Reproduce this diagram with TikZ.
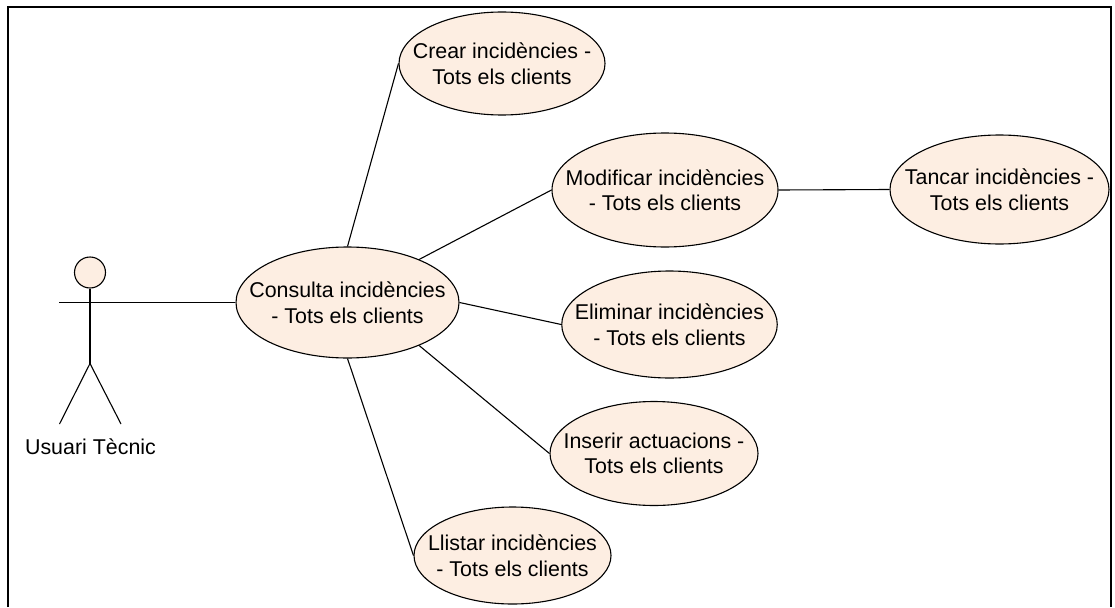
\documentclass[tikz,border=0pt]{standalone}
\usepackage{fontspec}
\setmainfont{Liberation Sans}
\usetikzlibrary{shapes.geometric}
\definecolor{usefill}{RGB}{253,238,226}
\newcommand{\twolines}[2]{\makebox[0pt][c]{#1}\\\makebox[0pt][c]{#2}}
\tikzset{
  x=1pt,y=-1pt,
  usecase/.style={draw=black,fill=usefill,ellipse,line width=1.1pt,inner sep=0pt,align=center,font=\fontsize{21.4}{25.5}\selectfont,text=black},
  link/.style={draw=black,line width=1.1pt},
  frameline/.style={draw=black,line width=2pt}
}
\begin{document}
\begin{tikzpicture}
\useasboundingbox (0,0) rectangle (1115,607);
\fill[white] (0,0) rectangle (1115,607);
\draw[frameline] (7.5,607) -- (7.5,7) -- (1111,7) -- (1111,607);
\node[usecase,minimum width=223pt,minimum height=111pt] (cons) at (347.5,302.5) {\twolines{Consulta incidències}{- Tots els clients}};
\node[usecase,minimum width=206pt,minimum height=103pt] (crear) at (502,63.5) {\twolines{Crear incidències -}{Tots els clients}};
\node[usecase,minimum width=226pt,minimum height=114pt] (mod) at (665,190) {\twolines{Modificar incidències}{- Tots els clients}};
\node[usecase,minimum width=219pt,minimum height=109pt] (tanc) at (999.5,189.5) {\twolines{Tancar incidències -}{Tots els clients}};
\node[usecase,minimum width=215.5pt,minimum height=107pt] (elim) at (669.5,324.5) {\twolines{Eliminar incidències}{- Tots els clients}};
\node[usecase,minimum width=208pt,minimum height=104pt] (ins) at (654,453.5) {\twolines{Inserir actuacions -}{Tots els clients}};
\node[usecase,minimum width=197pt,minimum height=97pt] (llis) at (512.5,555.5) {\twolines{Llistar incidències}{- Tots els clients}};
% actor
\node[circle,draw=black,fill=usefill,line width=1.1pt,minimum size=31pt,inner sep=0pt] (head) at (90,272.5) {};
\coordinate (hip) at (90,363.5);
\coordinate (armL) at (59,302.5);
\coordinate (armR) at (121,302.5);
\coordinate (footL) at (59.5,424);
\coordinate (footR) at (121,424);
\draw[link] (head.south) -- (hip);
\draw[link] (armL) -- (armR);
\draw[link] (footL) -- (hip) -- (footR);
\node[font=\fontsize{21.4}{25}\selectfont,inner sep=0pt] (lab) at (90.5,447) {Usuari Tècnic};
\draw[link] (armR) -- (cons.west |- armR);
\draw[link] (cons.north) -- (crear.west);
\draw[link] (cons.31) -- (mod.west);
\draw[link] (cons.east) -- (elim.west);
\draw[link] (cons.-31) -- (ins.west);
\draw[link] (cons.south) -- (llis.west);
\draw[link] (mod.east) -- (tanc.west);
\end{tikzpicture}
\end{document}
